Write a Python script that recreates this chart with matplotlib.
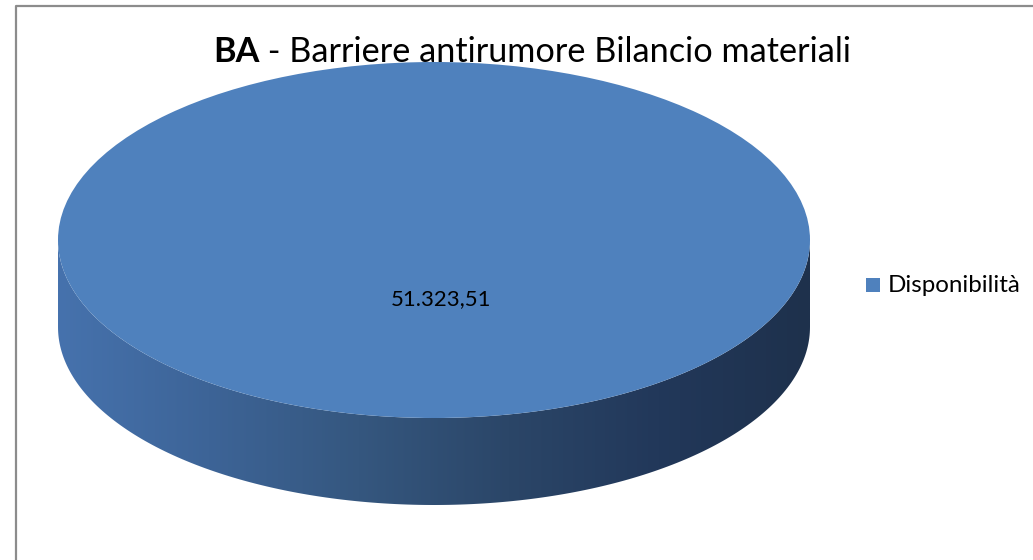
import numpy as np
import matplotlib.pyplot as plt
from matplotlib.patches import Ellipse, Polygon, Rectangle
from matplotlib.colors import LinearSegmentedColormap

plt.rcParams['font.family'] = ['Lato', 'DejaVu Sans']

# Data
categories = ['Disponibilità']
values = [51323.51]
value_labels = ['51.323,51']

# Geometry (pixels)
cx, cy = 434, 240
rx, ry = 376, 178
depth = 87
top_color = '#4f81bd'
side_cmap = LinearSegmentedColormap.from_list(
    'side', ['#4672ad', '#3d6497', '#35577f', '#2b4668', '#22385a', '#1e314c'])

fig = plt.figure(figsize=(10.33, 5.6), dpi=100)
ax = fig.add_axes([0, 0, 1, 1])
ax.set_xlim(0, 1033)
ax.set_ylim(560, 0)
ax.axis('off')

# outer frame (left and top edges visible)
ax.plot([16, 16, 1040], [600, 6, 6], color='#8c8c8c', lw=1.6, clip_on=False)

fracs = np.array(values) / np.sum(values)
start = 0.0
for frac, lab in zip(fracs, value_labels):
    t = np.linspace(0, np.pi, 200)
    xs = cx + rx * np.cos(t)
    ys = cy + ry * np.sin(t)
    pts = np.vstack([np.column_stack([xs, ys]),
                     np.column_stack([xs[::-1], ys[::-1] + depth])])
    side = Polygon(pts, closed=True, facecolor='none', edgecolor='none')
    ax.add_patch(side)
    grad = np.linspace(0, 1, 256).reshape(1, -1)
    im = ax.imshow(grad, cmap=side_cmap, aspect='auto',
                   extent=[cx - rx, cx + rx, cy + ry + depth, cy], zorder=1)
    im.set_clip_path(side)
    ax.add_patch(Ellipse((cx, cy), 2 * rx, 2 * ry, angle=0,
                         facecolor=top_color, edgecolor='none', zorder=2))
    ax.text(cx + 7, cy + 59, lab, ha='center', va='center', fontsize=16,
            color='black', zorder=3)
    start += frac * 360

# title
t1 = ax.text(213, 62, 'BA', fontsize=24.7, fontweight='bold', ha='left',
             va='baseline', zorder=4)
ax.annotate(' - Barriere antirumore Bilancio materiali', xy=(1, 0),
            xycoords=t1, fontsize=24.7, ha='left', va='bottom', zorder=4)

# legend
ax.add_patch(Rectangle((866, 278), 14, 14, facecolor=top_color, edgecolor='none'))
ax.text(888, 285, categories[0], fontsize=17.4, va='center', ha='left')

fig.savefig('out.png', dpi=100)
